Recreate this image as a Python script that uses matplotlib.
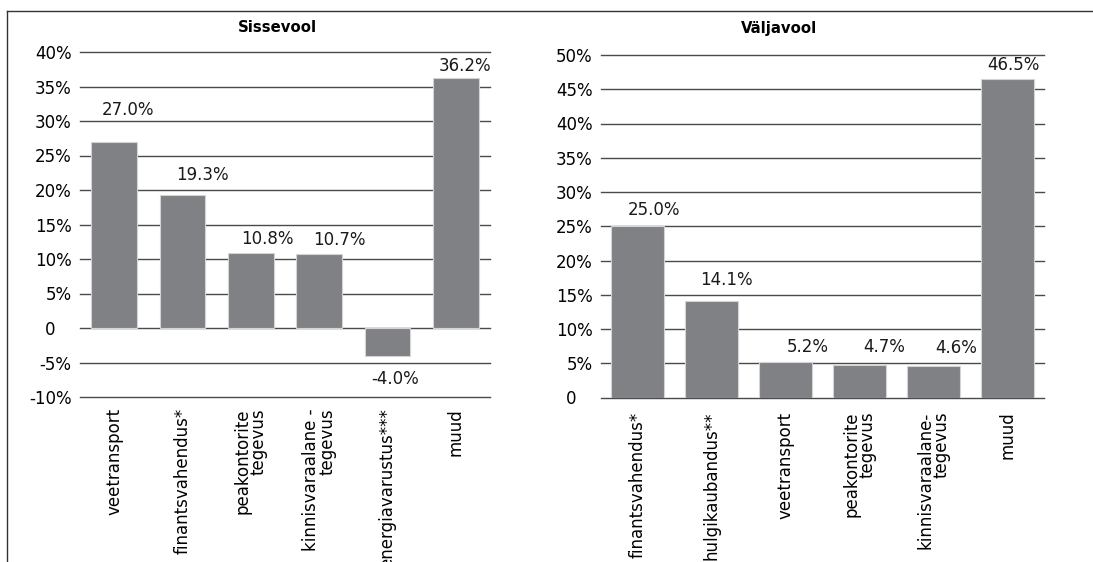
import matplotlib
matplotlib.use("Agg")
import matplotlib.pyplot as plt
from matplotlib.lines import Line2D
from matplotlib.transforms import ScaledTranslation

plt.rcParams['font.family'] = ['DejaVu Sans']

# ---- data ----
in_categories = ["veetransport", "finantsvahendus*", "peakontorite\ntegevus",
                 "kinnisvaraalane -\ntegevus", "energiavarustus***", "muud"]
in_values = [27.0, 19.3, 10.8, 10.7, -4.0, 36.2]
in_ticks = [-10, -5, 0, 5, 10, 15, 20, 25, 30, 35, 40]

out_categories = ["finantsvahendus*", "hulgikaubandus**", "veetransport",
                  "peakontorite\ntegevus", "kinnisvaraalane-\ntegevus", "muud"]
out_values = [25.0, 14.1, 5.2, 4.7, 4.6, 46.5]
out_ticks = [0, 5, 10, 15, 20, 25, 30, 35, 40, 45, 50]

titles = ["Sissevool", "Väljavool"]

# ---- style / layout ----
W, H, DPI = 1093, 562, 100
BAR = '#808185'
GRID = '#4a4a4a'
FS = 12

# label offsets in pixels (dx, dy from bar end to label centre)
in_dx = [14, 20, 17, 20, 8, 9]
in_dy = [32, 20, 14, 14, -23, 12]
out_dx = [16, 15, 22, 25, 23, 6]
out_dy = [16, 21, 15, 18, 18, 14]

fig = plt.figure(figsize=(W / DPI, H / DPI), dpi=DPI)
axL = fig.add_axes([80 / W, 1 - 397 / H, 410 / W, 345 / H])
axR = fig.add_axes([601 / W, 1 - 397.5 / H, 443 / W, 342.5 / H])


def fmt(t):
    return "0" if t == 0 else f"{t}%"


def draw(ax, cats, vals, ticks, width, dxs, dys, xpad):
    x = list(range(len(cats)))
    ax.set_ylim(ticks[0], ticks[-1])
    ax.set_xlim(-0.5, len(cats) - 0.5)
    ax.set_yticks(ticks)
    ax.set_yticklabels([fmt(t) for t in ticks])
    for t in ticks:
        ax.axhline(t, color=GRID, lw=1.0, zorder=1, clip_on=False)
    ax.bar(x, vals, width=width, color=BAR, edgecolor='#d4d4d6', linewidth=0.8, zorder=2)
    for xi, v, dx, dy in zip(x, vals, dxs, dys):
        ax.annotate(f"{v:.1f}%", xy=(xi, v), xytext=(dx, dy), textcoords='offset pixels',
                    ha='center', va='center', fontsize=FS, color='#1a1a1a')
    ax.set_xticks(x)
    ax.set_xticklabels(cats, rotation=90, fontsize=FS, linespacing=0.85,
                       multialignment='right', va='top', ha='center')
    ax.tick_params(axis='x', length=0, pad=xpad)
    ax.tick_params(axis='y', length=0, pad=6, labelsize=FS)
    for s in ax.spines.values():
        s.set_visible(False)
    # shift the "0" label as in the original (no % sign)
    for lab, t in zip(ax.get_yticklabels(), ticks):
        if t == 0:
            lab.set_transform(lab.get_transform() + ScaledTranslation(-16 / DPI, 0, fig.dpi_scale_trans))


draw(axL, in_categories, in_values, in_ticks, 0.67, in_dx, in_dy, 8)
draw(axR, out_categories, out_values, out_ticks, 0.72, out_dx, out_dy, 10)

fig.text(277 / W, 1 - 28 / H, titles[0], ha='center', va='center', fontsize=10.7, fontweight='bold')
fig.text(779 / W, 1 - 28 / H, titles[1], ha='center', va='center', fontsize=10.7, fontweight='bold')

# frame lines (top and left)
fig.add_artist(Line2D([7 / W, 1.0], [1 - 11 / H, 1 - 11 / H], color='#333333', lw=1.0))
fig.add_artist(Line2D([7 / W, 7 / W], [0, 1 - 11 / H], color='#333333', lw=1.0))

fig.savefig("out.png", dpi=DPI)
